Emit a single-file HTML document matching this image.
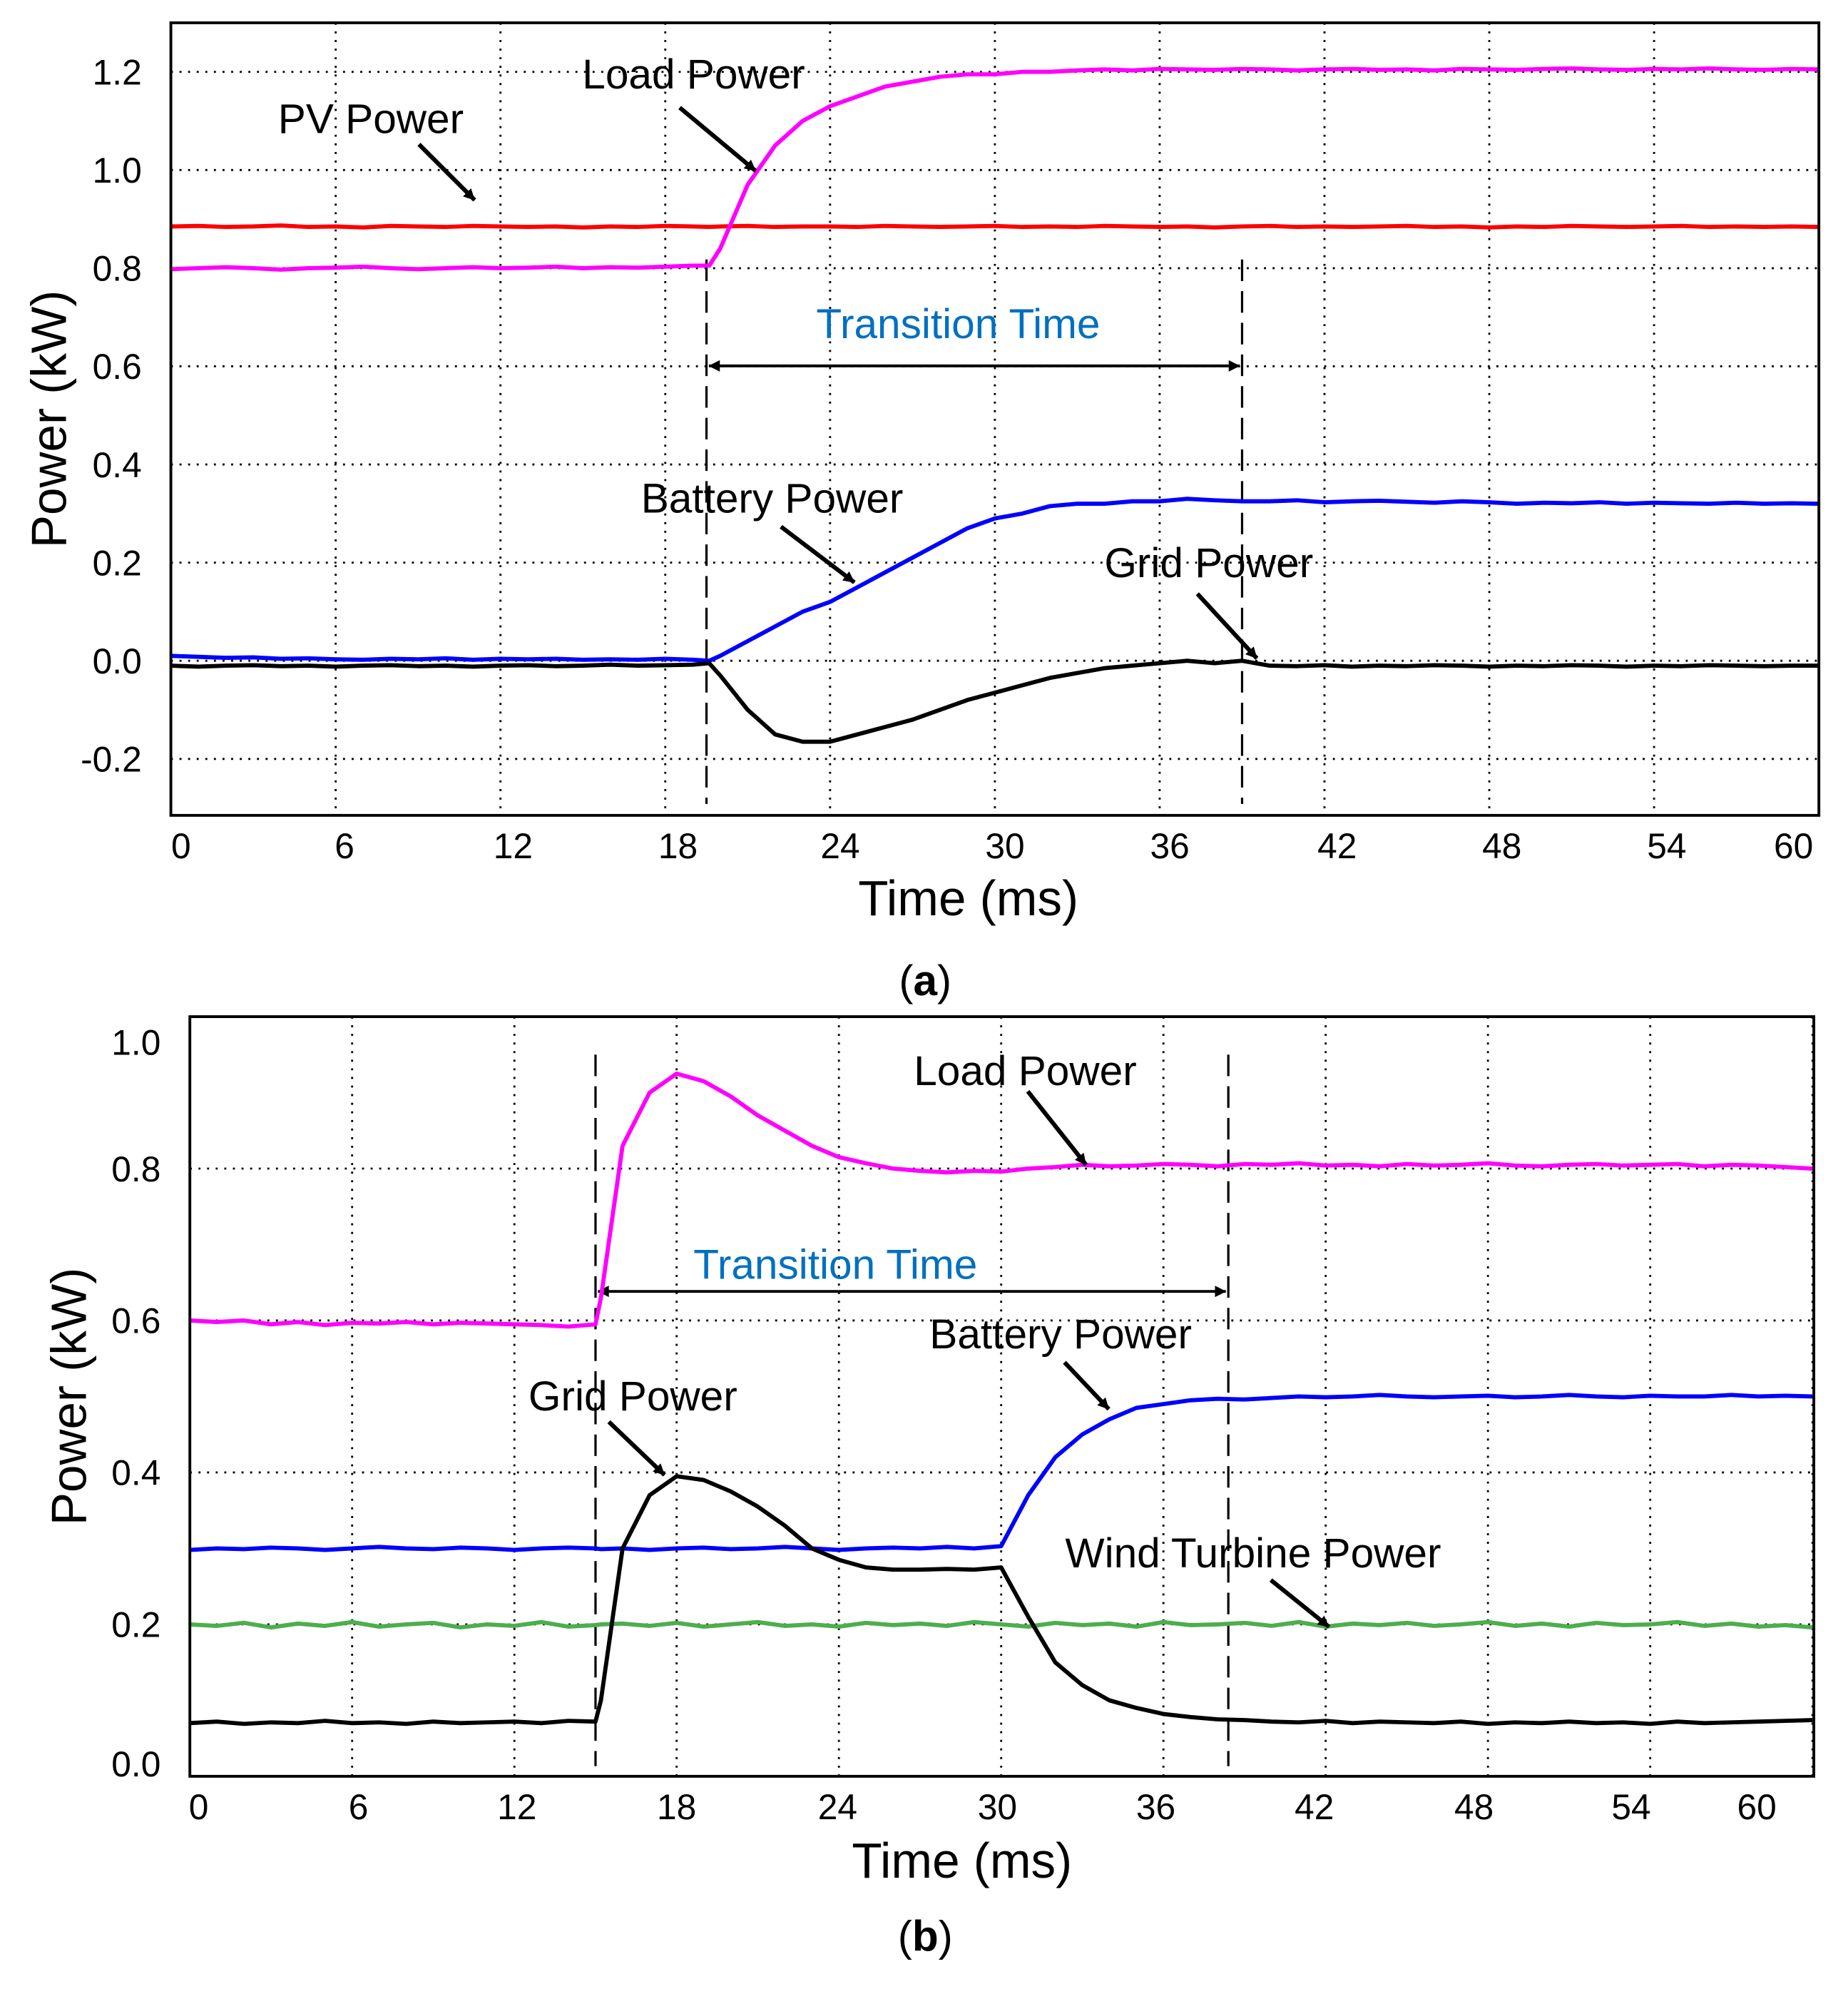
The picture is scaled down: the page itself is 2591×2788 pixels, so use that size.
<!DOCTYPE html>
<html><head><meta charset="utf-8"><style>
html,body{margin:0;padding:0;background:#fff;}
svg{display:block;}
text{font-family:"Liberation Sans",Arial,sans-serif;}
</style></head><body>
<svg id="fig" width="2591" height="2788" viewBox="0 0 1460 1571" xmlns="http://www.w3.org/2000/svg">
<defs>
<marker id="ah" viewBox="0 0 10 10" refX="9" refY="5" markerWidth="5" markerHeight="5" orient="auto-start-reverse" markerUnits="userSpaceOnUse" style="overflow:visible"><path d="M0,0 L10,5 L0,10 z" fill="#000" transform="scale(1.8) translate(-4.5,-2.2)"/></marker>
</defs>
<g id="pa"></g>
<g id="pb"></g>
</svg>
<script>
// ---------- Panel (a) data ----------
const timeA = [0,1,2,3,4,5,6,7,8,9,10,11,12,13,14,15,16,17,18,19,19.6,20,21,22,23,24,25,26,27,28,29,30,31,32,33,34,35,36,37,38,39,40,41,42,43,44,45,46,47,48,49,50,51,52,53,54,55,56,57,58,59,60];
const pvA = [0.885,0.886,0.884,0.885,0.887,0.884,0.885,0.883,0.886,0.885,0.884,0.886,0.885,0.884,0.885,0.883,0.885,0.884,0.886,0.885,0.884,0.885,0.886,0.884,0.885,0.885,0.884,0.886,0.885,0.884,0.885,0.886,0.884,0.885,0.884,0.886,0.885,0.884,0.885,0.883,0.885,0.886,0.884,0.885,0.884,0.885,0.886,0.884,0.885,0.883,0.885,0.884,0.886,0.885,0.884,0.885,0.886,0.884,0.885,0.884,0.885,0.884];
const loadA = [0.798,0.80,0.802,0.80,0.797,0.80,0.801,0.803,0.80,0.798,0.80,0.802,0.80,0.801,0.803,0.80,0.802,0.801,0.803,0.805,0.805,0.84,0.97,1.05,1.10,1.13,1.15,1.17,1.18,1.19,1.195,1.195,1.20,1.20,1.203,1.205,1.203,1.206,1.205,1.204,1.206,1.205,1.203,1.205,1.206,1.204,1.205,1.203,1.206,1.205,1.204,1.206,1.207,1.205,1.204,1.206,1.205,1.207,1.205,1.204,1.206,1.205];
const battA = [0.01,0.008,0.006,0.007,0.004,0.005,0.003,0.002,0.004,0.003,0.005,0.002,0.004,0.003,0.004,0.002,0.003,0.002,0.004,0.002,0.0,0.01,0.04,0.07,0.10,0.12,0.15,0.18,0.21,0.24,0.27,0.29,0.30,0.315,0.32,0.32,0.325,0.325,0.33,0.327,0.325,0.325,0.327,0.323,0.325,0.326,0.324,0.322,0.325,0.323,0.32,0.322,0.321,0.323,0.32,0.322,0.321,0.32,0.322,0.32,0.321,0.32];
const gridA = [-0.01,-0.012,-0.01,-0.009,-0.011,-0.01,-0.012,-0.01,-0.009,-0.011,-0.01,-0.012,-0.01,-0.009,-0.011,-0.01,-0.008,-0.01,-0.009,-0.008,-0.005,-0.03,-0.10,-0.15,-0.165,-0.165,-0.15,-0.135,-0.12,-0.10,-0.08,-0.065,-0.05,-0.035,-0.025,-0.015,-0.01,-0.005,0.0,-0.005,0.0,-0.01,-0.011,-0.009,-0.012,-0.01,-0.011,-0.009,-0.01,-0.012,-0.01,-0.011,-0.009,-0.01,-0.012,-0.01,-0.011,-0.009,-0.01,-0.011,-0.01,-0.01];
const xTicksA = [0,6,12,18,24,30,36,42,48,54,60];
const yTicksA = [-0.2,0.0,0.2,0.4,0.6,0.8,1.0,1.2];
const yTickLabelsA = ["-0.2","0.0","0.2","0.4","0.6","0.8","1.0","1.2"];
const markersA = [19.5,39];

// ---------- Panel (b) data ----------
const timeB = [0,1,2,3,4,5,6,7,8,9,10,11,12,13,14,15,15.2,16,17,18,19,20,21,22,23,24,25,26,27,28,29,30,31,32,33,34,35,36,37,38,39,40,41,42,43,44,45,46,47,48,49,50,51,52,53,54,55,56,57,58,59,60];
const loadB = [0.60,0.598,0.60,0.595,0.598,0.594,0.597,0.596,0.598,0.595,0.597,0.596,0.595,0.594,0.592,0.595,0.63,0.83,0.90,0.925,0.915,0.895,0.87,0.85,0.83,0.815,0.807,0.80,0.797,0.795,0.797,0.796,0.80,0.802,0.805,0.803,0.804,0.806,0.805,0.803,0.806,0.805,0.807,0.804,0.805,0.803,0.806,0.804,0.805,0.807,0.804,0.803,0.805,0.806,0.804,0.805,0.806,0.803,0.805,0.804,0.802,0.80];
const battB = [0.298,0.30,0.299,0.301,0.30,0.298,0.30,0.302,0.30,0.299,0.301,0.30,0.298,0.30,0.301,0.30,0.299,0.30,0.298,0.30,0.301,0.299,0.30,0.302,0.30,0.298,0.30,0.301,0.30,0.302,0.30,0.303,0.37,0.42,0.45,0.47,0.485,0.49,0.495,0.497,0.496,0.498,0.50,0.499,0.50,0.502,0.50,0.499,0.50,0.501,0.499,0.50,0.502,0.50,0.499,0.501,0.50,0.50,0.502,0.50,0.501,0.50];
const gridB = [0.07,0.072,0.069,0.071,0.07,0.073,0.07,0.071,0.069,0.072,0.07,0.071,0.072,0.07,0.073,0.072,0.10,0.30,0.37,0.395,0.39,0.375,0.355,0.33,0.30,0.285,0.275,0.272,0.272,0.273,0.272,0.275,0.21,0.15,0.12,0.10,0.09,0.082,0.078,0.075,0.074,0.072,0.071,0.073,0.07,0.072,0.071,0.07,0.072,0.069,0.071,0.07,0.072,0.07,0.071,0.069,0.072,0.07,0.071,0.072,0.073,0.074];
const windB = [0.20,0.198,0.202,0.196,0.201,0.198,0.203,0.197,0.20,0.202,0.196,0.20,0.198,0.203,0.197,0.199,0.20,0.201,0.198,0.202,0.197,0.20,0.203,0.198,0.20,0.197,0.202,0.199,0.201,0.198,0.203,0.20,0.197,0.202,0.199,0.201,0.197,0.203,0.199,0.20,0.202,0.198,0.203,0.197,0.201,0.199,0.202,0.198,0.20,0.203,0.198,0.201,0.197,0.202,0.199,0.20,0.203,0.198,0.201,0.197,0.199,0.196];
const xTicksB = [0,6,12,18,24,30,36,42,48,54,60];
const yTicksB = [0.0,0.2,0.4,0.6,0.8,1.0];
const yTickLabelsB = ["0.0","0.2","0.4","0.6","0.8","1.0"];
const markersB = [15,38.4];

const NS = "http://www.w3.org/2000/svg";
function mk(parent, tag, attrs, txt){
  const e = document.createElementNS(NS, tag);
  for (const k in attrs) e.setAttribute(k, attrs[k]);
  if (txt !== undefined) e.textContent = txt;
  parent.appendChild(e);
  return e;
}

function panel(g, box, xmin, xmax, ymin, ymax, xt, yt, ytl, labelDx, ytlAdj, xlabelY, titleY, titleX, ytitleX, letter, letterY){
  const X = v => box.l + (v - xmin) / (xmax - xmin) * (box.r - box.l);
  const Y = v => box.b - (v - ymin) / (ymax - ymin) * (box.b - box.t);
  xt.forEach(v => {
    if (v === xmin || v === xmax) return;
    const l = mk(g, 'line', {x1:X(v), x2:X(v), y1:box.t, y2:box.b, stroke:'#000', 'stroke-width':1.6, 'stroke-dasharray':'1.6 5.2'});
    
    
  });
  yt.forEach(v => {
    if (Math.abs(v - ymin) < 1e-9 || Math.abs(v - ymax) < 1e-9) return;
    const l = mk(g, 'line', {x1:box.l, x2:box.r, y1:Y(v), y2:Y(v), stroke:'#000', 'stroke-width':1.6, 'stroke-dasharray':'1.6 5.2'});
    
    
  });
  xt.forEach((v, i) => {
    let dx = labelDx[i] || 0;
    const t = mk(g, 'text', {x:X(v) + dx, y:xlabelY, 'font-size':28, 'text-anchor':'middle'}, String(v));
    
    
  });
  yt.forEach((v, i) => {
    const t = mk(g, 'text', {x:box.l - 23, y:Y(v) + 10 + (ytlAdj[i] || 0), 'font-size':28, 'text-anchor':'end'}, ytl[i]);
    
    
  });
  const xtl = mk(g, 'text', {x:titleX, y:titleY, 'font-size':39, 'text-anchor':'middle'}, 'Time (ms)');
  
  
  const ytitle = mk(g, 'text', {x:0, y:0, 'font-size':39, 'text-anchor':'middle', transform:`translate(${ytitleX},${(box.t+box.b)/2}) rotate(-90)`}, 'Power (kW)');
  
  
  const lt = mk(g, 'text', {x:731, y:letterY, 'font-size':34, 'text-anchor':'middle', 'font-family':'"Liberation Serif",serif'});
  
  
  mk(lt, 'tspan', {}, '(');
  mk(lt, 'tspan', {'font-weight':'bold'}, letter);
  mk(lt, 'tspan', {}, ')');
  return {X, Y};
}

function series(g, ax, ts, vs, color, name){
  let d = '';
  ts.forEach((t, i) => { d += (i ? 'L' : 'M') + ax.X(t).toFixed(2) + ',' + ax.Y(vs[i]).toFixed(2); });
  const p = mk(g, 'path', {d, fill:'none', stroke:color, 'stroke-width':3.3, 'stroke-linejoin':'round'});
  
  
}

function frame(g, box){
  const r = mk(g, 'rect', {x:box.l, y:box.t, width:box.r-box.l, height:box.b-box.t, fill:'none', stroke:'#000', 'stroke-width':2.2});
  
  
}

function annot(g, txt, tx, ty, x1, y1, x2, y2, name){
  const t = mk(g, 'text', {x:tx, y:ty, 'font-size':33, 'text-anchor':'middle'}, txt);
  
  
  const l = mk(g, 'line', {x1, y1, x2, y2, stroke:'#000', 'stroke-width':3.4, 'marker-end':'url(#ah)'});
  
  
}

function transition(g, ax, m, y1, y2, arrowY, textX, textY){
  m.forEach(v => {
    const l = mk(g, 'line', {x1:ax.X(v), x2:ax.X(v), y1, y2, stroke:'#000', 'stroke-width':1.8, 'stroke-dasharray':'17 8'});
    
    
  });
  const a = mk(g, 'line', {x1:ax.X(m[0]) + 2, x2:ax.X(m[1]) - 2, y1:arrowY, y2:arrowY, stroke:'#000', 'stroke-width':2.2, 'marker-start':'url(#ah)', 'marker-end':'url(#ah)'});
  
  
  const t = mk(g, 'text', {x:textX, y:textY, 'font-size':33, fill:'#0070C0', 'text-anchor':'middle'}, 'Transition Time');
  
  
}

// Panel a
const gA = document.getElementById('pa');
const boxA = {l:135, r:1437, t:18, b:644};
const axA = panel(gA, boxA, 0, 60, -0.315, 1.3, xTicksA, yTicksA, yTickLabelsA, [8,7,10,10,8,8,8,10,10,10,-20], [0,0,0,0,0,0,0,0], 678, 723, 765, 52, 'a', 786);
transition(gA, axA, markersA, 205, 635, 289, 757, 267);
series(gA, axA, timeA, pvA, '#ff0000', 'pv-power-line');
series(gA, axA, timeA, loadA, '#ff00ff', 'load-power-line');
series(gA, axA, timeA, battA, '#0000ff', 'battery-power-line');
series(gA, axA, timeA, gridA, '#000000', 'grid-power-line');
frame(gA, boxA);
annot(gA, 'Load Power', 548, 70, 537, 85, 597, 135, 'load-power');
annot(gA, 'PV Power', 293, 105, 331, 114, 375, 158, 'pv-power');
annot(gA, 'Battery Power', 610, 405, 617, 416, 675, 460, 'battery-power');
annot(gA, 'Grid Power', 955, 456, 946, 469, 993, 520, 'grid-power');

// Panel b
const gB = document.getElementById('pb');
const boxB = {l:150, r:1433, t:803, b:1403};
const axB = panel(gB, boxB, 0, 60.05, 0.0, 1.0, xTicksB, yTicksB, yTickLabelsB, [7,5,2,0,-1,-3,-6,-9,-11,-15,-44], [-10,0,0,0,0,20], 1437, 1483, 760, 68, 'b', 1541);
transition(gB, axB, markersB, 833, 1395, 1020, 660, 1010);
series(gB, axB, timeB, loadB, '#ff00ff', 'load-power-line');
series(gB, axB, timeB, battB, '#0000ff', 'battery-power-line');
series(gB, axB, timeB, windB, '#4cae4c', 'wind-turbine-power-line');
series(gB, axB, timeB, gridB, '#000000', 'grid-power-line');
frame(gB, boxB);
annot(gB, 'Load Power', 810, 857, 812, 862, 858, 920, 'load-power');
annot(gB, 'Battery Power', 838, 1065, 841, 1076, 876, 1113, 'battery-power');
annot(gB, 'Grid Power', 500, 1114, 481, 1123, 525, 1165, 'grid-power');
annot(gB, 'Wind Turbine Power', 990, 1238, 1004, 1248, 1050, 1285, 'wind-turbine-power');
</script>
</body></html>
